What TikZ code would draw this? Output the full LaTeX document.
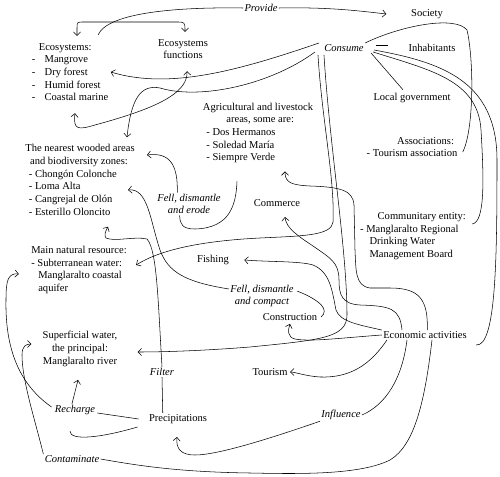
\documentclass[tikz,border=0pt]{standalone}
\usepackage{fontspec}
\setmainfont{Liberation Serif}
\usetikzlibrary{arrows.meta,calc,positioning}

\tikzset{
  lbl/.style={inner sep=1pt},
  act/.style={inner sep=1pt, font=\itshape},
  arr/.style={-{Straight Barb[length=3pt,width=6pt]}},
  darr/.style={{Straight Barb[length=3pt,width=6pt]}-{Straight Barb[length=3pt,width=6pt]}}
}

\begin{document}
\begin{tikzpicture}[x=0.03cm,y=-0.03cm]
                        \useasboundingbox (0,0) rectangle (500,477);
                        {\fontsize{9}{10.8}\selectfont

                        % Marking nodes of society
                        \node [act] (provide) at (261,8) {Provide};
                        \node [lbl] (society) at (427,14) {Society};
                        \node [act] (consume) at (344,48) {Consume};
                        \node [lbl] (inhab) at (432,48) {Inhabitants};
                        \node [lbl] (localgov) at (412,98) {Local government};
                        \node [lbl, align=left] (assoc) at (412,147) {\hspace*{26pt}Associations:\\- Tourism association};
                        \node [lbl, align=left] (commun) at (413,236) {\hspace*{15pt}Communitary entity:\\- Manglaralto Regional\\\hspace*{8pt}Drinking Water\\\hspace*{8pt}Management Board};

                        % Marking nodes of nature
                        \node [lbl, align=left] (ecosys) at (70,72) {\hspace*{6pt}Ecosystems:\\-\hspace{8pt}Mangrove\\-\hspace{8pt}Dry forest\\-\hspace{8pt}Humid forest\\-\hspace{8pt}Coastal marine};
                        \node [lbl, align=center] (ecofun) at (183,49) {Ecosystems\\functions};
                        \node [lbl, align=left] (agri) at (258,133) {Agricultural and livestock\\\hspace*{20pt}areas, some are:\\\hspace*{3pt}- Dos Hermanos\\\hspace*{3pt}- Soledad María\\\hspace*{3pt}- Siempre Verde};
                        \node [lbl, align=left] (wooded) at (80,180) {The nearest wooded areas\\\hspace*{4pt}and biodiversity zones:\\\hspace*{3pt}- Chongón Colonche\\\hspace*{3pt}- Loma Alta\\\hspace*{3pt}- Cangrejal de Olón\\\hspace*{3pt}- Esterillo Oloncito};
                        \node [lbl, align=left] (mainres) at (79,270) {Main natural resource:\\- Subterranean water:\\\hspace*{6pt}Manglaralto coastal\\\hspace*{6pt}aquifer};
                        \node [lbl, align=center] (superf) at (80,349) {Superficial water,\\the principal:\\Manglaralto river};

                        % Marking nodes of activities
                        \node [act, align=center] (fero) at (189,204) {Fell, dismantle\\and erode};
                        \node [lbl] (commerce) at (277,203) {Commerce};
                        \node [lbl] (fishing) at (213,260) {Fishing};
                        \node [act, align=center] (feco) at (262,296) {Fell, dismantle\\and compact};
                        \node [lbl] (constr) at (290,317) {Construction};
                        \node [lbl] (econ) at (425,335) {Economic activities};
                        \node [act] (filter) at (162,372) {Filter};
                        \node [lbl] (tourism) at (270,372) {Tourism};
                        \node [act] (recharge) at (75,410) {Recharge};
                        \node [lbl] (precip) at (178,419) {Precipitations};
                        \node [act] (infl) at (341,415) {Influence};
                        \node [act] (contam) at (72,459) {Contaminate};
                        \coordinate (pjoin) at (98,35);

                        % Drawing curve provide society
                        \draw [line width=0.016cm, arr] (provide.east) .. controls (330,7) and (360,11) .. ([xshift=-20pt]society.west);
                        \draw [line width=0.016cm] (provide.west) .. controls (180,7) and (108,12) .. (pjoin);

                        % Drawing bracket ecosystems functions
                        \draw [line width=0.016cm, darr] ([shift={(7,-6)}]ecosys.north) -- (77,28) .. controls (77,22) .. (84,22) -- (176,22) .. controls (185,22) .. ([shift={(2,-6)}]ecofun.north);
                        \draw [line width=0.016cm, darr] ([shift={(5,11)}]ecosys.south) .. controls (73,130) and (78,130) .. (95,125) .. controls (150,110) and (188,95) .. ([shift={(4,11)}]ecofun.south);

                        % Drawing curves from consume
                        \draw [line width=0.016cm, arr] ([shift={(-4,-5)}]consume.west) .. controls (240,70) and (170,90) .. ([xshift=1pt]ecosys.east);
                        \draw [line width=0.016cm, arr] ([shift={(-8,4)}]consume.west) .. controls (270,85) and (200,100) .. (160,88) .. controls (140,84) and (131,100) .. ([shift={(-9,-6)}]wooded.north east);
                        \draw [line width=0.016cm, arr] ([shift={(-5,2)}]consume.south west) .. controls (322,120) and (335,180) .. (333,222) .. controls (332,236) and (300,236) .. (260,238) .. controls (200,241) and (160,250) .. ([shift={(8,-5)}]mainres.east);
                        \draw [line width=0.016cm, arr] ([shift={(1,2)}]consume.south west) .. controls (330,150) and (347,250) .. (347,315) .. controls (347,338) and (320,340) .. (250,347) .. controls (200,351) and (160,352) .. ([shift={(19,3)}]superf.east);
                        \draw [line width=0.016cm] (consume.north east) .. controls (400,26) and (455,15) .. (467,30) .. controls (474,60) and (474,130) .. ([shift={(4,5)}]assoc.east);
                        \draw [line width=0.016cm] ([shift={(11,-3)}]consume.east) -- ([shift={(-19,-3)}]inhab.west);
                        \draw [line width=0.016cm] ([shift={(6,0)}]consume.south east) -- ([shift={(-9,-2)}]localgov.north);
                        \draw [line width=0.016cm] ([shift={(8,-1)}]consume.south east) .. controls (430,70) and (478,80) .. (481,130) .. controls (484,180) and (485,222) .. ([shift={(5,-12)}]commun.east);
                        \draw [line width=0.016cm] ([shift={(9,2)}]consume.east) .. controls (440,62) and (497,80) .. (497,160) .. controls (497,260) and (496,347) .. ([shift={(8,10)}]econ.east);

                        % Drawing curves from economic activities
                        \draw [line width=0.016cm, arr] ([xshift=2pt]econ.north) .. controls (428,300) and (420,288) .. (390,288) -- (370,288) .. controls (355,286) and (356,270) .. (355,250) -- (354,205) .. controls (353,190) and (340,187) .. (310,186) .. controls (292,185) and (285,183) .. ([shift={(27,7)}]agri.south);
                        \draw [line width=0.016cm, arr] ([shift={(-23,0)}]econ.north) .. controls (400,308) and (390,306) .. (360,305) .. controls (342,304) and (339,295) .. (339,280) .. controls (339,262) and (330,258) .. (313,246) .. controls (298,236) and (286,228) .. ([shift={(8,9)}]commerce.south);
                        \draw [line width=0.016cm, arr] (econ.north west) .. controls (360,325) and (340,322) .. (336,310) .. controls (332,290) and (330,272) .. (313,265) .. controls (300,261) and (270,262) .. ([xshift=12pt]fishing.east);
                        \draw [line width=0.016cm, arr] (econ.west) .. controls (340,338) and (310,342) .. (295,339) .. controls (287,337) and (288,330) .. ([shift={(0,2)}]constr.south);
                        \draw [line width=0.016cm, arr] ([shift={(-38,0)}]econ.south) .. controls (370,365) and (350,378) .. (320,377) .. controls (305,376) and (295,372) .. ([xshift=1pt]tourism.east);
                        \draw [line width=0.016cm] ([shift={(-18,0)}]econ.south) .. controls (402,380) and (385,405) .. (infl.east);
                        \draw [line width=0.016cm] ([shift={(7,0)}]econ.south) .. controls (425,400) and (415,445) .. (390,460) .. controls (360,475) and (300,474) .. (250,473) .. controls (180,472) and (140,466) .. (contam.east);

                        % Drawing curves of felling
                        \draw [line width=0.016cm] ([xshift=2pt]constr.east) .. controls (330,310) and (320,300) .. ([shift={(2,-5)}]feco.east);
                        \draw [line width=0.016cm, arr] ([shift={(0,-7)}]feco.west) .. controls (185,282) and (168,272) .. (160,250) .. controls (150,220) and (148,188) .. ([shift={(-8,10)}]wooded.east);
                        \draw [line width=0.016cm, arr] ([xshift=-10pt]fero.north) .. controls (178,165) and (170,152) .. ([shift={(11,-25)}]wooded.east);
                        \draw [line width=0.016cm] ([shift={(-21,17)}]agri.south) .. controls (236,205) and (230,228) .. (195,229) .. controls (182,229) and (180,224) .. ([xshift=-8pt]fero.south);

                        % Drawing curves of water
                        \draw [line width=0.016cm] ([xshift=-13pt]precip.north) -- (filter.south);
                        \draw [line width=0.016cm, arr] (filter.north) .. controls (158,300) and (157,250) .. (147,239) .. controls (135,236) and (115,242) .. (106,238) .. controls (104,236) and (105,232) .. ([shift={(28,10)}]wooded.south);
                        \draw [line width=0.016cm, arr] ([shift={(-2,-3)}]recharge.west) .. controls (20,385) and (5,350) .. (6,300) .. controls (6,280) and (8,273) .. ([shift={(-11,4)}]mainres.west);
                        \draw [line width=0.016cm, arr] ([shift={(-3,0)}]recharge.north) -- ([shift={(-2,12)}]superf.south);
                        \draw [line width=0.016cm] ([shift={(1,3)}]recharge.east) -- ([shift={(-9,0)}]precip.west);
                        \draw [line width=0.016cm] ([shift={(-10,8)}]precip.west) .. controls (100,438) and (70,441) .. ([shift={(-5,15)}]recharge.south);
                        \draw [line width=0.016cm, arr] (infl.south west) .. controls (280,435) and (220,455) .. (195,455) .. controls (180,455) and (176,448) .. ([shift={(-1,12)}]precip.south);
                        \draw [line width=0.016cm, arr] (contam.north west) .. controls (35,420) and (22,380) .. (22,355) .. controls (22,346) and (26,344) .. ([shift={(-10,-5)}]superf.west);
                        }
                    \end{tikzpicture}
\end{document}
